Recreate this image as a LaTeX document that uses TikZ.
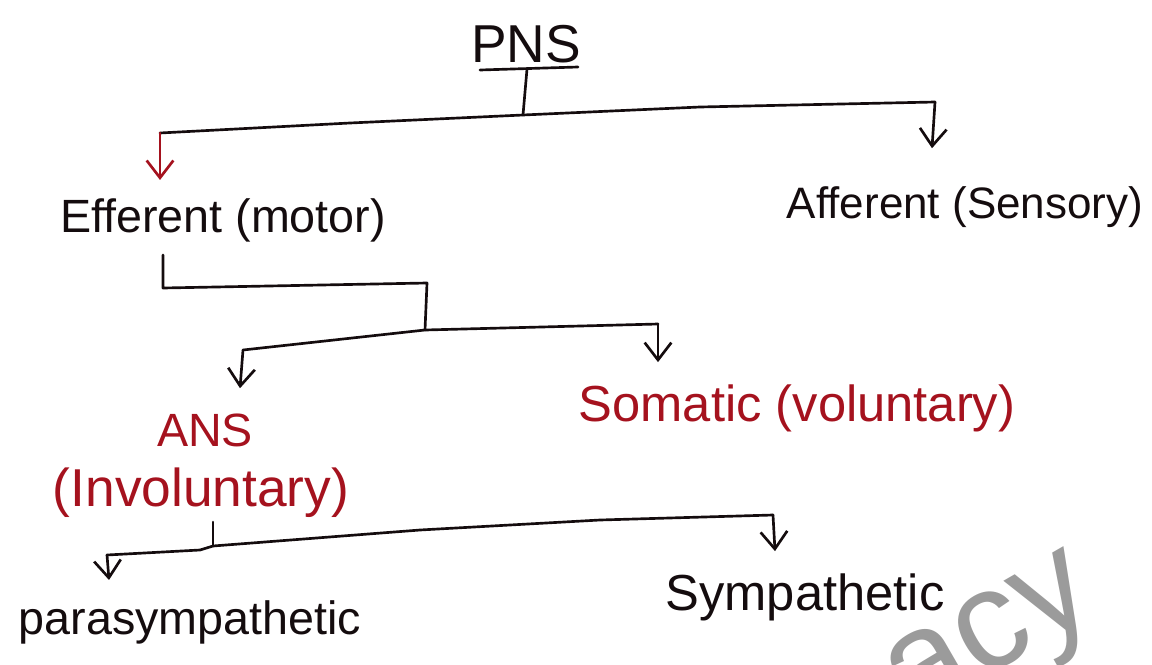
\documentclass[tikz,border=0pt]{standalone}
\usepackage{fontspec}
\setmainfont{Liberation Sans}
\usetikzlibrary{arrows.meta,calc}
\definecolor{ink}{RGB}{20,12,14}
\definecolor{redink}{RGB}{165,18,30}
\definecolor{wm}{RGB}{155,155,155}
\tikzset{
  line/.style={draw=ink, line width=2pt, line cap=round, line join=round},
  arr/.style={line, -{Straight Barb[length=13pt,width=20pt]}},
  lbl/.style={text=ink, inner sep=0pt, font=\fontsize{35}{38}\selectfont},
  redlbl/.style={lbl, text=redink},
}
\begin{document}
\begin{tikzpicture}[x=0.75pt,y=-0.75pt]
\useasboundingbox (0,0) rectangle (1152,664);
% watermark
\node[text=wm, rotate=30, font=\fontsize{105}{105}\selectfont, inner sep=0pt] (wmk) at (995,645) {acy};
% nodes
\node[lbl, font=\fontsize{40}{44}\selectfont] (pns) at (526,44) {PNS};
\node[lbl] (eff) at (223,220) {Efferent (motor)};
\node[lbl, font=\fontsize{33}{36}\selectfont] (aff) at (965,207) {Afferent (Sensory)};
\node[redlbl] (ans) at (205,430) {ANS};
\node[redlbl, font=\fontsize{40}{44}\selectfont] (inv) at (201,493) {(Involuntary)};
\node[redlbl, font=\fontsize{38}{42}\selectfont] (som) at (797,408) {Somatic (voluntary)};
\node[lbl] (para) at (190,622) {parasympathetic};
\node[lbl, font=\fontsize{38}{42}\selectfont] (symp) at (805,597) {Sympathetic};
% level 1
\coordinate (u1) at (480,70);
\coordinate (u2) at (578,67);
\coordinate (t1) at (527,69);
\coordinate (t2) at (523,115);
\coordinate (h1L) at (160,133);
\coordinate (h1R) at (935,102);
\draw[line] (u1) -- (u2);
\draw[line] (t1) -- (t2);
\draw[line] (h1L) -- (350,123) -- (t2) -- (700,107) -- (h1R);
\draw[arr, draw=redink] (h1L) -- ($(h1L |- eff.north)+(0,-18)$);
\draw[arr] (h1R) -- ($(h1R |- aff.north)+(-3,-38)$);
% level 2
\coordinate (e1) at (163,255);
\coordinate (e2) at (163,288);
\coordinate (e3) at (427,283);
\coordinate (e4) at (425,330);
\coordinate (h2L) at (243,350);
\coordinate (h2R) at (658,324);
\draw[line] (e1) -- (e2) -- (e3) -- (e4);
\draw[line] (h2L) -- (e4) -- (h2R);
\draw[arr] (h2L) -- ($(h2L |- ans.north)+(-3,-25)$);
\draw[arr] (h2R) -- ($(h2R |- som.north)+(0,-22)$);
% level 3
\coordinate (a1) at (213,522);
\coordinate (a2) at (213,546);
\coordinate (h3L) at (107,555);
\coordinate (h3R) at (773,515);
\draw[line] (a1) -- (a2);
\draw[line] (h3L) -- (200,550) -- (a2) -- (420,530) -- (600,520) -- (h3R);
\draw[arr] (h3L) -- ($(h3L |- para.north)+(2,-20)$);
\draw[arr] (h3R) -- ($(h3R |- symp.north)+(2,-22)$);
\end{tikzpicture}
\end{document}
